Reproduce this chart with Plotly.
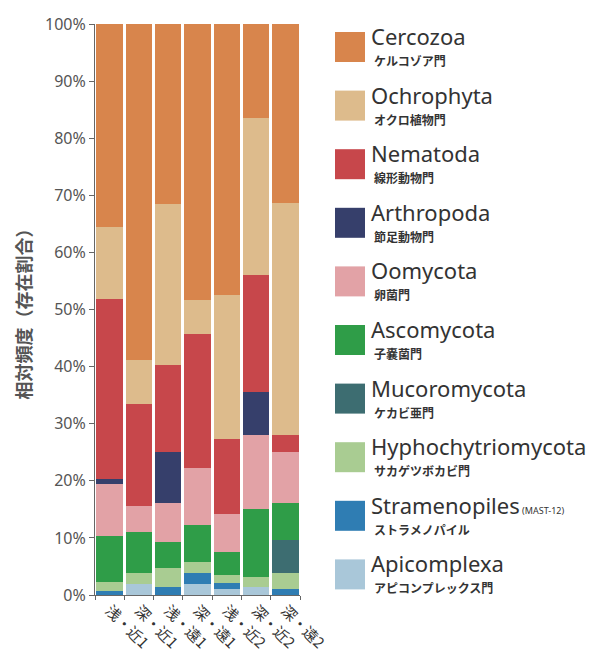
import plotly.graph_objects as go

# ---------------- data ----------------
samples = ["浅・近1", "深・近1", "浅・遠1", "深・遠1", "浅・近2", "深・近2", "深・遠2"]

phyla_en = ["Cercozoa", "Ochrophyta", "Nematoda", "Arthropoda", "Oomycota",
            "Ascomycota", "Mucoromycota", "Hyphochytriomycota", "Stramenopiles", "Apicomplexa"]
phyla_ja = ["ケルコゾア門", "オクロ植物門", "線形動物門", "節足動物門", "卵菌門",
            "子嚢菌門", "ケカビ亜門", "サカゲツボカビ門", "ストラメノパイル", "アピコンプレックス門"]
colors = ["#D8854C", "#DDBB8C", "#C7474B", "#363F6B", "#E2A2A6",
          "#2F9D48", "#3D6D71", "#A9CC92", "#2F7DB3", "#A9C7D9"]

cercozoa       = [35.5, 58.8, 31.5, 48.3, 47.5, 16.5, 31.4]
ochrophyta     = [12.7,  7.7, 28.3,  6.0, 25.1, 27.5, 40.6]
nematoda       = [31.5, 17.9, 15.2, 23.5, 13.2, 20.4,  2.9]
arthropoda     = [ 0.9,  0.0,  8.9,  0.0,  0.0,  7.5,  0.0]
oomycota       = [ 9.1,  4.6,  6.8,  9.9,  6.6, 13.0,  9.0]
ascomycota     = [ 8.0,  7.2,  4.5,  6.6,  4.1, 12.0,  6.5]
mucoromycota   = [ 0.0,  0.0,  0.0,  0.0,  0.0,  0.0,  5.7]
hyphochytrio   = [1.55,  1.9, 3.45,  1.9, 1.45, 1.75,  2.9]
stramenopiles  = [0.75,  0.0, 1.35,  1.9,  1.0,  0.0,  1.0]
apicomplexa    = [ 0.0,  1.9,  0.0,  1.9, 1.05, 1.35,  0.0]

series = [cercozoa, ochrophyta, nematoda, arthropoda, oomycota,
          ascomycota, mucoromycota, hyphochytrio, stramenopiles, apicomplexa]

y_ticks = list(range(0, 101, 10))
y_ticktext = [f"{v}%" for v in y_ticks]
y_title = "相対頻度（存在割合）"

# ---------------- figure ----------------
OFF = 8                      # browser default body margin
W, H = 606 - OFF, 653 - OFF
# plot area in reference-page pixels
RL, RR, RT, RB = 95, 300, 24, 595
L, R, T, B = RL - OFF, RR - OFF, RT - OFF, RB - OFF

fig = go.Figure()
# stack from bottom (Apicomplexa) to top (Cercozoa)
for i in reversed(range(len(phyla_en))):
    fig.add_trace(go.Bar(
        x=samples, y=series[i], name=phyla_en[i],
        marker=dict(color=colors[i], line=dict(width=0)),
        showlegend=False,
        hovertemplate="%{x}<br>" + phyla_en[i] + ": %{y}%<extra></extra>",
    ))

JP = "Noto Sans CJK JP"
EN = "Noto Sans, Open Sans, sans-serif"

def px_x(px):  # reference page pixel -> paper coordinate
    return (px - RL) / (RR - RL)

def px_y(py):
    return (RB - py) / (RB - RT)

shapes = []
annotations = []
sw_x0, sw_x1 = 335, 365
first_top, step, sw_h = 32, 58.6, 30
for k in range(len(phyla_en)):
    top = first_top + k * step
    shapes.append(dict(type="rect", xref="paper", yref="paper",
                       x0=px_x(sw_x0), x1=px_x(sw_x1),
                       y0=px_y(top + sw_h), y1=px_y(top),
                       fillcolor=colors[k], line=dict(width=0)))
    en_text = phyla_en[k]
    if phyla_en[k] == "Stramenopiles":
        en_text = "Stramenopiles<span style='font-size:9px'> (MAST-12)</span>"
    annotations.append(dict(xref="paper", yref="paper", x=px_x(369), y=px_y(top + 4),
                            text=en_text, showarrow=False, xanchor="left", yanchor="middle",
                            font=dict(family=EN, size=22, color="#333333")))
    annotations.append(dict(xref="paper", yref="paper", x=px_x(372), y=px_y(top + 28.5),
                            text="<b>" + phyla_ja[k] + "</b>", showarrow=False,
                            xanchor="left", yanchor="middle",
                            font=dict(family=JP, size=12, color="#333333")))

annotations.append(dict(xref="paper", yref="paper", x=px_x(22), y=0.5,
                        text="<b>" + y_title + "</b>", textangle=-90, showarrow=False,
                        xanchor="center", yanchor="middle",
                        font=dict(family=JP, size=18, color="#555555")))

fig.update_layout(
    width=W, height=H,
    margin=dict(l=L, r=W - R, t=T, b=H - B, autoexpand=False),
    barmode="stack", bargap=0.1,
    paper_bgcolor="white", plot_bgcolor="white",
    shapes=shapes, annotations=annotations,
    xaxis=dict(
        tickangle=45, tickson="boundaries", ticks="outside", ticklen=4,
        tickcolor="#666666", showline=True, linecolor="#666666", linewidth=1,
        tickfont=dict(family=JP, size=15, color="#333333"),
        showgrid=False, automargin=False,
    ),
    yaxis=dict(
        range=[0, 100], tickvals=y_ticks, ticktext=y_ticktext,
        ticks="outside", ticklen=5, tickcolor="#666666",
        showline=True, linecolor="#666666", linewidth=1,
        tickfont=dict(family=EN, size=16, color="#555555"),
        showgrid=False, zeroline=False, automargin=False,
    ),
)

fig.write_html("out.html")
